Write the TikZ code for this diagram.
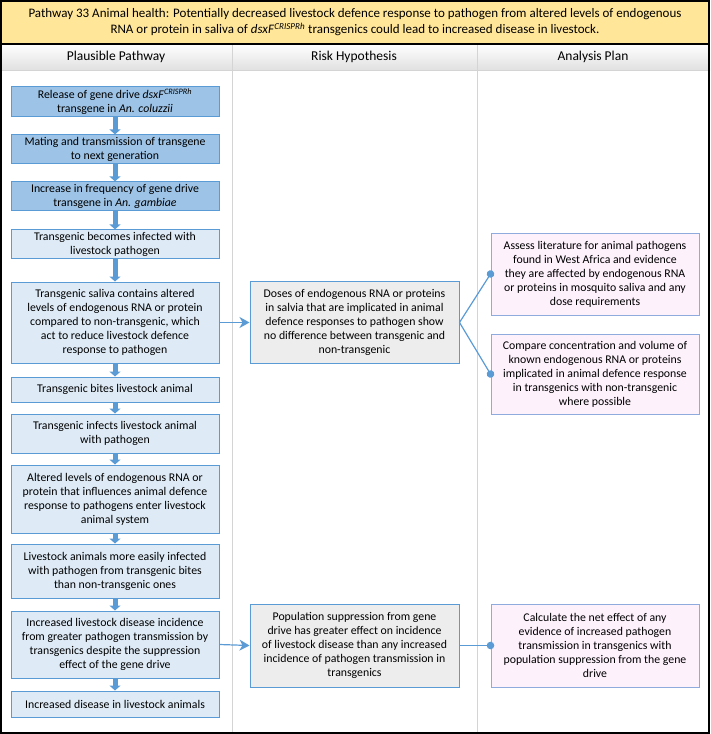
\documentclass[tikz,border=0pt]{standalone}
\usepackage{fontspec}
\setmainfont{Carlito}
\usetikzlibrary{arrows.meta}
\definecolor{TitleClr}{HTML}{FFE699}
\definecolor{LineClr}{HTML}{5B9BD5}
\definecolor{DarkClr}{HTML}{9DC3E6}
\definecolor{LightClr}{HTML}{DEEBF7}
\definecolor{HypClr}{HTML}{EDEDED}
\definecolor{PlanClr}{HTML}{FDF1FC}
\definecolor{PlanLineClr}{HTML}{8FAADC}
\definecolor{RuleClr}{HTML}{D4D4D4}
\newcommand{\dsx}{\textit{dsxF}\textsuperscript{\textit{CRISPRh}}}

\begin{document}
\begin{tikzpicture}[x=1pt,y=-1pt,font=\fontsize{11.8}{14}\selectfont,
  box/.style={draw=LineClr,line width=1pt,align=center,minimum width=208pt,inner sep=2pt},
  dark/.style={box,fill=DarkClr},
  light/.style={box,fill=LightClr},
  hyp/.style={box,fill=HypClr,minimum width=209pt},
  plan/.style={box,draw=PlanLineClr,fill=PlanClr},
  down/.style={LineClr,line width=5pt,-{Triangle[width=11pt,length=5pt]}},
  link/.style={LineClr,line width=1.2pt}]
\useasboundingbox (0,0) rectangle (710,734);

\fill[TitleClr] (0,0) rectangle (710,44);
\shade[top color=white,bottom color=black!12] (0,44) rectangle (710,70);
\draw[RuleClr] (0,70) -- (710,70);
\draw[RuleClr] (232,44) -- (232,734) (477,44) -- (477,734);
\draw[line width=1.5pt] (0,44) -- (710,44);
\draw[line width=2pt] (1,1) rectangle (709,733);

\node[align=center,font=\fontsize{13}{16}\selectfont] (title) at (355,22)
  {Pathway 33 Animal health: Potentially decreased livestock defence response to pathogen from altered levels of endogenous\\
   RNA or protein in saliva of \dsx{} transgenics could lead to increased disease in livestock.};
\node[font=\fontsize{13.5}{16}\selectfont] (hpath) at (116,57) {Plausible Pathway};
\node[font=\fontsize{13.5}{16}\selectfont] (hhyp) at (354,57) {Risk Hypothesis};
\node[font=\fontsize{13.5}{16}\selectfont] (hplan) at (593,57) {Analysis Plan};

\node[dark,minimum height=25pt] (p1) at (115,101.5) {Release of gene drive \dsx\\transgene in \textit{An. coluzzii}};
\node[dark,minimum height=26pt] (p2) at (115,149) {Mating and transmission of transgene\\to next generation};
\node[dark,minimum height=26pt] (p3) at (115,196) {Increase in frequency of gene drive\\transgene in \textit{An. gambiae}};
\node[light,minimum height=26pt] (p4) at (115,244) {Transgenic becomes infected with\\livestock pathogen};
\node[light,minimum height=81pt] (p5) at (115,322.5) {Transgenic saliva contains altered\\levels of endogenous RNA or protein\\compared to non-transgenic, which\\act to reduce livestock defence\\response to pathogen};
\node[light,minimum height=25pt] (p6) at (115,389.5) {Transgenic bites livestock animal};
\node[light,minimum height=39pt] (p7) at (115,433.5) {Transgenic infects livestock animal\\with pathogen};
\node[light,minimum height=68pt] (p8) at (115,499) {Altered levels of endogenous RNA or\\protein that influences animal defence\\response to pathogens enter livestock\\animal system};
\node[light,minimum height=54pt] (p9) at (115,571) {Livestock animals more easily infected\\with pathogen from transgenic bites\\than non-transgenic ones};
\node[light,minimum height=67pt] (p10) at (115,644.5) {Increased livestock disease incidence\\from greater pathogen transmission by\\transgenics despite the suppression\\effect of the gene drive};
\node[light,minimum height=26pt] (p11) at (115,704) {Increased disease in livestock animals};

\foreach \a/\b in {p1/p2,p2/p3,p3/p4,p4/p5,p5/p6,p6/p7,p7/p8,p8/p9,p9/p10,p10/p11}
  \draw[down] (\a.south) -- (\b.north);

\node[hyp,minimum height=82pt] (h1) at (354.5,322.5) {Doses of endogenous RNA or proteins\\in salvia that are implicated in animal\\defence responses to pathogen show\\no difference between transgenic and\\non-transgenic};
\node[hyp,minimum height=83pt] (h2) at (354.5,645.5) {Population suppression from gene\\drive has greater effect on incidence\\of livestock disease than any increased\\incidence of pathogen transmission in\\transgenics};

\node[plan,minimum height=82pt] (a1) at (595,274) {Assess literature for animal pathogens\\found in West Africa and evidence\\they are affected by endogenous RNA\\or proteins in mosquito saliva and any\\dose requirements};
\node[plan,minimum height=80pt] (a2) at (595,374) {Compare concentration and volume of\\known endogenous RNA or proteins\\implicated in animal defence response\\in transgenics with non-transgenic\\where possible};
\node[plan,minimum height=83pt] (a3) at (595,645.5) {Calculate the net effect of any\\evidence of increased pathogen\\transmission in transgenics with\\population suppression from the gene\\drive};

\draw[link,-{Stealth[length=10pt,width=11pt,inset=3pt]}] (p5.east) -- (h1.west);
\draw[link,-{Stealth[length=10pt,width=11pt,inset=3pt]}] (p10.east) -- (h2.west);
\draw[link,-{Circle[length=7.5pt]},shorten >=-3.75pt] (h1.east) -- (a1.west);
\draw[link,-{Circle[length=7.5pt]},shorten >=-3.75pt] (h1.east) -- (a2.west);
\draw[link,-{Circle[length=7.5pt]},shorten >=-3.75pt] (h2.east) -- (a3.west);
\end{tikzpicture}
\end{document}
